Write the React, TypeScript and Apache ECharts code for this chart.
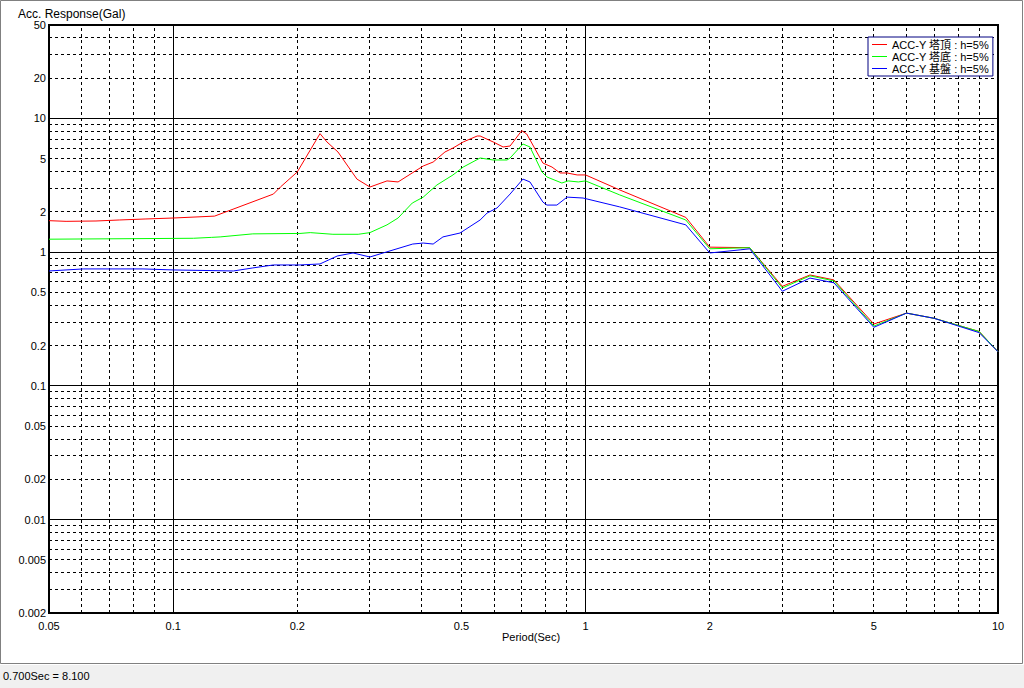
import React, { useEffect, useRef } from "react";
import * as echarts from "echarts";

// ---- data (period in sec, response in Gal) ----
const seriesNames = ["ACC-Y 塔頂 : h=5%", "ACC-Y 塔底 : h=5%", "ACC-Y 基盤 : h=5%"];

const redPeriod = [0.05, 0.055, 0.065, 0.074, 0.0855, 0.1, 0.126, 0.175, 0.182, 0.2, 0.227, 0.236, 0.251, 0.279, 0.3, 0.33, 0.351, 0.404, 0.427, 0.456, 0.477, 0.505, 0.546, 0.555, 0.597, 0.631, 0.656, 0.7, 0.72, 0.788, 0.829, 0.867, 0.902, 0.954, 1.0, 1.21, 1.75, 2.0, 2.5, 3.0, 3.5, 4.0, 5.0, 6.0, 7.0, 9.0, 10];
const redValue = [1.72, 1.70, 1.71, 1.74, 1.77, 1.80, 1.86, 2.72, 3.07, 3.98, 7.7, 6.67, 5.61, 3.52, 3.07, 3.41, 3.35, 4.41, 4.72, 5.61, 6.01, 6.67, 7.39, 7.39, 6.67, 6.12, 6.22, 8.1, 7.65, 4.64, 4.33, 3.91, 3.91, 3.78, 3.78, 2.92, 1.82, 1.09, 1.08, 0.555, 0.675, 0.62, 0.29, 0.35, 0.32, 0.255, 0.18];

const greenPeriod = [0.05, 0.112, 0.124, 0.13, 0.156, 0.203, 0.215, 0.244, 0.281, 0.3, 0.33, 0.351, 0.38, 0.404, 0.436, 0.477, 0.505, 0.555, 0.597, 0.645, 0.656, 0.705, 0.733, 0.784, 0.806, 0.876, 0.907, 0.96, 1.0, 1.21, 1.75, 2.0, 2.5, 3.0, 3.5, 4.0, 5.0, 6.0, 7.0, 9.0, 10];
const greenValue = [1.25, 1.27, 1.29, 1.30, 1.37, 1.38, 1.40, 1.36, 1.36, 1.40, 1.60, 1.80, 2.33, 2.58, 3.18, 3.78, 4.33, 5.06, 4.89, 4.89, 5.06, 6.44, 6.12, 3.98, 3.65, 3.29, 3.41, 3.35, 3.41, 2.68, 1.74, 1.06, 1.08, 0.54, 0.665, 0.61, 0.28, 0.35, 0.32, 0.255, 0.18];

const bluePeriod = [0.05, 0.0605, 0.0845, 0.1, 0.14, 0.156, 0.175, 0.203, 0.227, 0.25, 0.273, 0.3, 0.323, 0.381, 0.404, 0.427, 0.451, 0.496, 0.555, 0.577, 0.61, 0.656, 0.705, 0.733, 0.788, 0.806, 0.852, 0.902, 0.986, 1.21, 1.75, 2.0, 2.37, 2.5, 3.0, 3.5, 4.0, 5.0, 6.0, 7.0, 9.0, 10];
const blueValue = [0.723, 0.749, 0.749, 0.736, 0.723, 0.762, 0.802, 0.802, 0.816, 0.936, 0.986, 0.92, 0.986, 1.15, 1.17, 1.15, 1.30, 1.39, 1.74, 1.96, 2.14, 2.72, 3.52, 3.35, 2.37, 2.25, 2.25, 2.58, 2.54, 2.18, 1.60, 0.986, 1.04, 1.06, 0.51, 0.64, 0.59, 0.274, 0.35, 0.32, 0.25, 0.18];

const seriesColors = ["#ff0000", "#00ff00", "#0000ff"];

const xTickLabels = ["0.05", "0.1", "0.2", "0.5", "1", "2", "5", "10"];
const yTickLabels = ["50", "20", "10", "5", "2", "1", "0.5", "0.2", "0.1", "0.05", "0.02", "0.01", "0.005", "0.002"];

const xGridValues = [0.06, 0.07, 0.08, 0.09, 0.1, 0.2, 0.3, 0.4, 0.5, 0.6, 0.7, 0.8, 0.9, 1, 2, 3, 4, 5, 6, 7, 8, 9];
const yGridValues = [0.003, 0.004, 0.005, 0.006, 0.007, 0.008, 0.009, 0.01, 0.02, 0.03, 0.04, 0.05, 0.06, 0.07, 0.08, 0.09, 0.1, 0.2, 0.3, 0.4, 0.5, 0.6, 0.7, 0.8, 0.9, 1, 2, 3, 4, 5, 6, 7, 8, 9, 10, 20, 30, 40];

const X_MIN = 0.05;
const X_MAX = 10;
const Y_MIN = 0.002;
const Y_MAX = 50;

const statusText = "0.700Sec = 8.100";
const yTitle = "Acc. Response(Gal)";
const xTitle = "Period(Sec)";

const FONT = '"Liberation Sans", "Noto Sans CJK JP", sans-serif';

const isDecade = (v: number) => {
  const l = Math.log10(v);
  return Math.abs(l - Math.round(l)) < 1e-9;
};
const crisp = (v: number) => Math.round(v - 0.5) + 0.5;

export default function App() {
  const ref = useRef<HTMLDivElement>(null);

  useEffect(() => {
    document.body.style.margin = "0";
    const chart = echarts.init(ref.current!, null, { renderer: "svg" });

    const lineSeries = [
      [redPeriod, redValue],
      [greenPeriod, greenValue],
      [bluePeriod, blueValue],
    ].map(([p, v], i) => ({
      type: "line",
      name: seriesNames[i],
      data: (p as number[]).map((x, j) => [x, (v as number[])[j]]),
      symbol: "none",
      showSymbol: false,
      lineStyle: { color: seriesColors[i], width: 1 },
      itemStyle: { color: seriesColors[i] },
      emphasis: { disabled: true },
      z: 3 + i,
      clip: true,
    }));

    const gridStyle = (v: number) =>
      isDecade(v)
        ? { stroke: "#000", lineWidth: 1 }
        : { stroke: "#000", lineWidth: 1, lineDash: [3, 3] };

    const option: any = {
      animation: false,
      backgroundColor: "#ffffff",
      textStyle: { fontFamily: FONT },
      grid: {
        left: 49,
        top: 25,
        width: 949,
        height: 588,
        show: true,
        borderColor: "#000",
        borderWidth: 2,
        backgroundColor: "#fff",
      },
      xAxis: {
        type: "log",
        logBase: 10,
        min: X_MIN,
        max: X_MAX,
        axisLine: { show: false },
        axisTick: { show: false },
        axisLabel: { show: false },
        splitLine: { show: false },
      },
      yAxis: {
        type: "log",
        logBase: 10,
        min: Y_MIN,
        max: Y_MAX,
        axisLine: { show: false },
        axisTick: { show: false },
        axisLabel: { show: false },
        splitLine: { show: false },
      },
      legend: {
        data: seriesNames,
        orient: "vertical",
        left: 868,
        top: 37,
        icon: "rect",
        itemWidth: 15,
        itemHeight: 1,
        itemGap: 1,
        padding: [2, 4, 2, 4],
        borderColor: "#000080",
        borderWidth: 1,
        backgroundColor: "#fff",
        selectedMode: false,
        textStyle: { fontFamily: FONT, fontSize: 11, color: "#000", lineHeight: 11, padding: [0, 0, 0, 0] },
      },
      graphic: [
        {
          type: "rect",
          shape: { x: 0.5, y: 0.5, width: 1022, height: 663 },
          style: { fill: "none", stroke: "#808080", lineWidth: 1 },
          silent: true,
        },
        {
          type: "rect",
          shape: { x: 0, y: 665, width: 1024, height: 23 },
          style: { fill: "#f0f0f0", stroke: "none" },
          silent: true,
        },
        {
          type: "text",
          x: 18,
          y: 14,
          style: { text: yTitle, fill: "#000", font: `12px ${FONT}`, align: "left", verticalAlign: "middle", textAlign: "left", textVerticalAlign: "middle" },
          silent: true,
        },
        {
          type: "text",
          x: 531,
          y: 637,
          style: { text: xTitle, fill: "#000", font: `11px ${FONT}`, align: "center", verticalAlign: "middle", textAlign: "center", textVerticalAlign: "middle" },
          silent: true,
        },
        {
          type: "text",
          x: 3,
          y: 676,
          style: { text: statusText, fill: "#000", font: `11px ${FONT}`, align: "left", verticalAlign: "middle", textAlign: "left", textVerticalAlign: "middle" },
          silent: true,
        },
      ],
      series: [
        {
          type: "custom",
          name: "vgrid",
          silent: true,
          z: 1,
          clip: true,
          data: xGridValues.map((v) => [v, Y_MIN]),
          encode: { x: 0, y: 1 },
          renderItem: (params: any, api: any) => {
            const v = api.value(0);
            const a = api.coord([v, Y_MIN]);
            const b = api.coord([v, Y_MAX]);
            const x = crisp(a[0]);
            return { type: "line", shape: { x1: x, y1: a[1], x2: x, y2: b[1] }, style: gridStyle(v) };
          },
        },
        {
          type: "custom",
          name: "hgrid",
          silent: true,
          z: 1,
          clip: true,
          data: yGridValues.map((v) => [X_MIN, v]),
          encode: { x: 0, y: 1 },
          renderItem: (params: any, api: any) => {
            const v = api.value(1);
            const a = api.coord([X_MIN, v]);
            const b = api.coord([X_MAX, v]);
            const y = crisp(a[1]);
            return { type: "line", shape: { x1: a[0], y1: y, x2: b[0], y2: y }, style: gridStyle(v) };
          },
        },
        {
          type: "custom",
          name: "ylabels",
          silent: true,
          z: 10,
          clip: false,
          data: yTickLabels.map((s) => [X_MIN, Number(s)]),
          encode: { x: 0, y: 1 },
          renderItem: (params: any, api: any) => {
            const p = api.coord([X_MIN, api.value(1)]);
            return {
              type: "text",
              x: p[0] - 3,
              y: p[1],
              style: {
                text: yTickLabels[params.dataIndex],
                fill: "#000",
                font: `11px ${FONT}`,
                align: "right",
                verticalAlign: "middle",
                textAlign: "right",
                textVerticalAlign: "middle",
              },
            };
          },
        },
        {
          type: "custom",
          name: "xlabels",
          silent: true,
          z: 10,
          clip: false,
          data: xTickLabels.map((s) => [Number(s), Y_MIN]),
          encode: { x: 0, y: 1 },
          renderItem: (params: any, api: any) => {
            const p = api.coord([api.value(0), Y_MIN]);
            return {
              type: "text",
              x: p[0],
              y: p[1] + 13,
              style: {
                text: xTickLabels[params.dataIndex],
                fill: "#000",
                font: `11px ${FONT}`,
                align: "center",
                verticalAlign: "middle",
                textAlign: "center",
                textVerticalAlign: "middle",
              },
            };
          },
        },
        ...lineSeries,
      ],
    };

    chart.setOption(option);
    return () => chart.dispose();
  }, []);

  return (
    <div
      ref={ref}
      style={{ position: "fixed", left: 0, top: 0, width: 1024, height: 688 }}
    />
  );
}
